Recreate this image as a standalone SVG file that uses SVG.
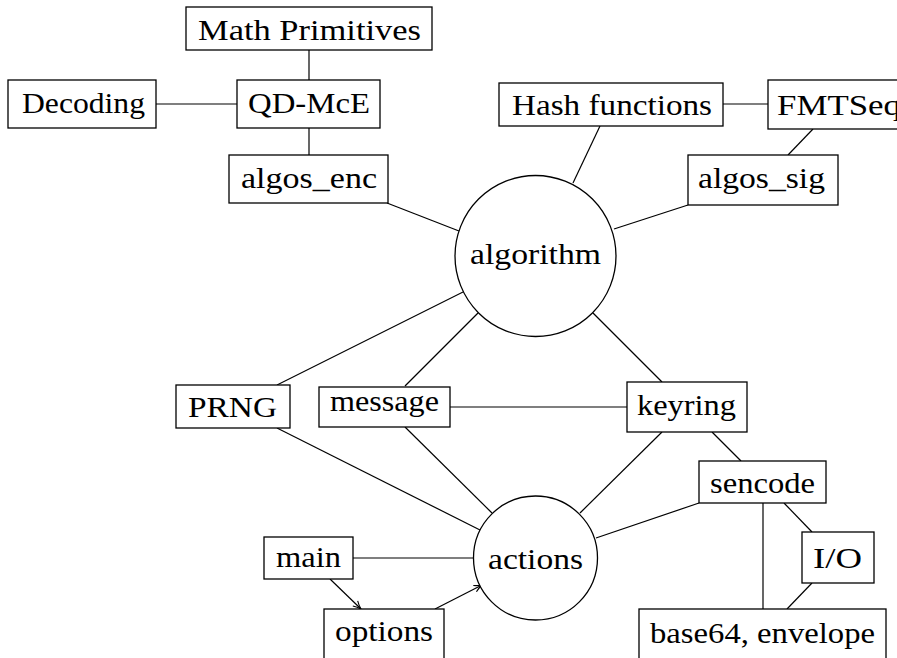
<svg xmlns="http://www.w3.org/2000/svg" width="897" height="658" viewBox="0 0 897 658">
<style>
.n rect, .n circle { fill: #fff; stroke: #000; stroke-width: 1.3; }
.n text { font-family: "Liberation Serif", serif; font-size: 30px; fill: #000; text-anchor: middle; }
.e line { stroke: #000; stroke-width: 1.2; fill: none; }
</style>
<defs>
<marker id="arr" viewBox="0 0 10 10" refX="9" refY="5" markerWidth="10" markerHeight="10" markerUnits="userSpaceOnUse" orient="auto">
<path d="M1,1.5 Q5,4 9,5 Q5,6 1,8.5" fill="none" stroke="#000" stroke-width="1.1"/>
</marker>
</defs>
<rect width="897" height="658" fill="#fff"/>
<g id="connectors" class="e">
<line x1="309" y1="50" x2="309" y2="80"/>
<line x1="156" y1="104" x2="237" y2="104"/>
<line x1="309" y1="128" x2="309" y2="155"/>
<line x1="723" y1="104" x2="768" y2="104"/>
<line x1="813" y1="129" x2="788" y2="155"/>
<line x1="387" y1="203" x2="459" y2="231"/>
<line x1="600" y1="126" x2="573" y2="183"/>
<line x1="688" y1="205" x2="614" y2="229"/>
<line x1="277" y1="385" x2="463" y2="292"/>
<line x1="405" y1="386" x2="478" y2="313"/>
<line x1="662" y1="382" x2="593" y2="313"/>
<line x1="450" y1="407" x2="627" y2="407"/>
<line x1="712" y1="432" x2="741" y2="461"/>
<line x1="277" y1="428" x2="480" y2="530"/>
<line x1="405" y1="427" x2="492" y2="513"/>
<line x1="662" y1="432" x2="580" y2="513"/>
<line x1="699" y1="503" x2="596" y2="538"/>
<line x1="353" y1="558" x2="473" y2="558"/>
<line x1="763" y1="503" x2="763" y2="609"/>
<line x1="784" y1="503" x2="812" y2="532"/>
<line x1="812" y1="583" x2="787" y2="609"/>
<line x1="435" y1="609" x2="482" y2="585" marker-end="url(#arr)"/>
<line x1="330" y1="579" x2="361" y2="609" marker-end="url(#arr)"/>
</g>
<g id="math" class="n"><rect x="186" y="7" width="246" height="43"/><text x="309.5" y="40" textLength="223" lengthAdjust="spacingAndGlyphs">Math Primitives</text></g>
<g id="decoding" class="n"><rect x="8" y="80" width="148" height="48"/><text x="83.5" y="113" textLength="123" lengthAdjust="spacingAndGlyphs">Decoding</text></g>
<g id="qdmce" class="n"><rect x="237" y="80" width="143" height="48"/><text x="309" y="113" textLength="122" lengthAdjust="spacingAndGlyphs">QD-McE</text></g>
<g id="algos_enc" class="n"><rect x="229" y="155" width="159" height="48"/><text x="309" y="188" textLength="136" lengthAdjust="spacingAndGlyphs">algos_enc</text></g>
<g id="hash" class="n"><rect x="499" y="83" width="224" height="43"/><text x="612" y="115" textLength="200" lengthAdjust="spacingAndGlyphs">Hash functions</text></g>
<g id="fmtseq" class="n"><rect x="768" y="80" width="140" height="49"/><text x="777" y="115" style="text-anchor:start" textLength="124" lengthAdjust="spacingAndGlyphs">FMTSeq</text></g>
<g id="algos_sig" class="n"><rect x="688" y="155" width="150" height="50"/><text x="761.5" y="188" textLength="127" lengthAdjust="spacingAndGlyphs">algos_sig</text></g>
<g id="algorithm" class="n"><circle cx="535.5" cy="256" r="80.5"/><text x="535.5" y="264" textLength="131" lengthAdjust="spacingAndGlyphs">algorithm</text></g>
<g id="prng" class="n"><rect x="176" y="385" width="114" height="43"/><text x="232.5" y="417" textLength="89" lengthAdjust="spacingAndGlyphs">PRNG</text></g>
<g id="message" class="n"><rect x="319" y="387" width="131" height="40"/><text x="384.5" y="411" textLength="109" lengthAdjust="spacingAndGlyphs">message</text></g>
<g id="keyring" class="n"><rect x="627" y="382" width="120" height="50"/><text x="686.5" y="415" textLength="99" lengthAdjust="spacingAndGlyphs">keyring</text></g>
<g id="sencode" class="n"><rect x="699" y="461" width="127" height="42"/><text x="762.5" y="493" textLength="105" lengthAdjust="spacingAndGlyphs">sencode</text></g>
<g id="io" class="n"><rect x="802" y="532" width="72" height="51"/><text x="837.5" y="568" textLength="49" lengthAdjust="spacingAndGlyphs">I/O</text></g>
<g id="base64" class="n"><rect x="639" y="609" width="247" height="55"/><text x="762.5" y="643" textLength="225" lengthAdjust="spacingAndGlyphs">base64, envelope</text></g>
<g id="actions" class="n"><circle cx="535.5" cy="558" r="62"/><text x="535.5" y="569" textLength="95" lengthAdjust="spacingAndGlyphs">actions</text></g>
<g id="main" class="n"><rect x="264" y="537" width="89" height="42"/><text x="308.5" y="567" textLength="65" lengthAdjust="spacingAndGlyphs">main</text></g>
<g id="options" class="n"><rect x="324" y="609" width="120" height="55"/><text x="384" y="641" textLength="98" lengthAdjust="spacingAndGlyphs">options</text></g>
</svg>
